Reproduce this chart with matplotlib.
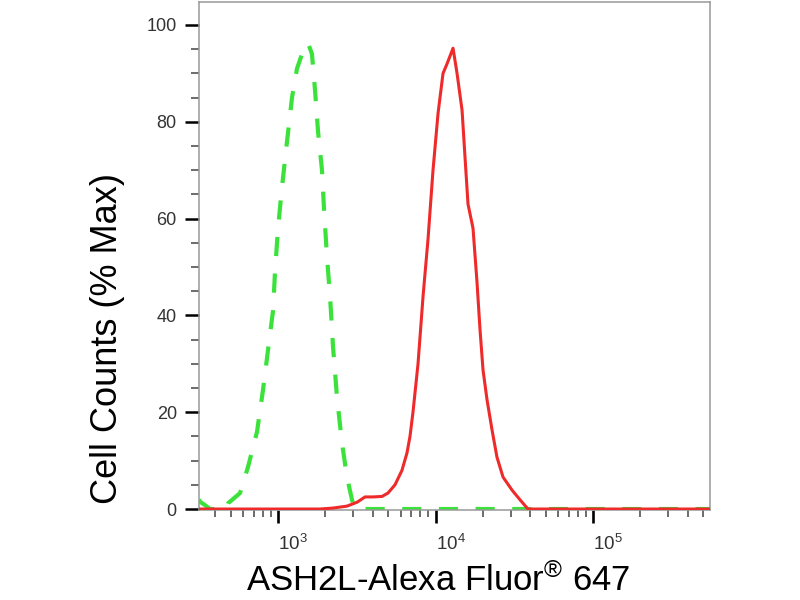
import matplotlib
matplotlib.use('Agg')
import matplotlib.pyplot as plt
from matplotlib.ticker import MultipleLocator, LogLocator

plt.rcParams['font.family'] = ['Liberation Sans', 'DejaVu Sans']
plt.rcParams['mathtext.fontset'] = 'custom'
plt.rcParams['mathtext.rm'] = 'Liberation Sans'
plt.rcParams['mathtext.it'] = 'Liberation Sans:italic'
plt.rcParams['mathtext.bf'] = 'Liberation Sans:bold'

# ASH2L-Alexa Fluor 647 stained sample (red, solid)
red_x = [315, 1849, 2233, 2740, 3175, 3567, 4008, 4571, 4990, 5529, 6124, 6590,
         6885, 7193, 7743, 8336, 8954, 9640, 10380, 11160, 11840, 12920, 13700,
         14740, 15390, 16080, 17300, 18330, 19170, 20030, 21250, 22860, 24560,
         26830, 30620, 34420, 38650, 553000]
red_y = [0, 0, 0.2, 0.6, 1.4, 2.5, 2.5, 2.6, 3.3, 5, 8, 11.6,
         15, 20, 30, 44, 55.6, 70, 81.8, 90, 92, 95.2, 90,
         82.4, 72.7, 63, 58, 47, 37, 28.7, 22.5, 16.3, 10.7,
         6.6, 3.9, 1.9, 0, 0]

# isotype control (green, dashed)
green_x = [315, 320, 344, 370, 468, 482, 574, 645, 736, 803, 865, 930, 957,
           1000, 1060, 1141, 1227, 1320, 1420, 1550, 1643, 1718, 1795, 1902,
           1959, 2047, 2139, 2235, 2370, 2549, 2741, 2950, 3085, 553000]
green_y = [2, 1.5, 0.8, 0, 0, 1.2, 3.3, 8.7, 16, 24.6, 33, 41, 49,
           58, 66.5, 76, 85, 91, 94, 96.3, 94, 86.5, 78, 70,
           62, 52, 44, 33.5, 23, 13.6, 6.6, 1.9, 0, 0]

fig = plt.figure(figsize=(8, 6), dpi=100)
ax = fig.add_axes([0.24875, 0.15, 0.63875, 0.84667])

ax.plot(green_x, green_y, color='#3ae23a', lw=3, dashes=(4.6, 4.2), zorder=2)
ax.plot(red_x, red_y, color='#ee2a2a', lw=2.2, zorder=3)

ax.set_xscale('log')
ax.set_xlim(315, 553000)
ax.set_ylim(-0.2, 104.75)

ax.yaxis.set_major_locator(MultipleLocator(20))
ax.yaxis.set_minor_locator(MultipleLocator(5))
ax.xaxis.set_major_locator(LogLocator(base=10))
ax.xaxis.set_minor_locator(LogLocator(base=10, subs=range(2, 10)))

for s in ax.spines.values():
    s.set_color('#999999')
    s.set_linewidth(1.1)

ax.tick_params(which='major', axis='y', length=10, width=1.8, color='black',
               labelsize=13, labelcolor='#333333', pad=6)
ax.tick_params(which='minor', axis='y', length=5.5, width=1.1, color='#444444')
ax.tick_params(which='major', axis='x', length=9.5, width=1.9, color='black',
               labelsize=13.5, labelcolor='#333333', pad=8)
ax.tick_params(which='minor', axis='x', length=5, width=1.1, color='#444444')
for lbl in ax.get_xticklabels():
    lbl.set_horizontalalignment('left')

ax.set_xlabel('ASH2L-Alexa Fluor$^{\u00ae}$ 647', fontsize=25)
ax.set_ylabel('Cell Counts (% Max)', fontsize=26)
ax.xaxis.set_label_coords(0.468, -0.104)
ax.yaxis.set_label_coords(-0.145, 0.337)

fig.savefig('out.png', dpi=100)
